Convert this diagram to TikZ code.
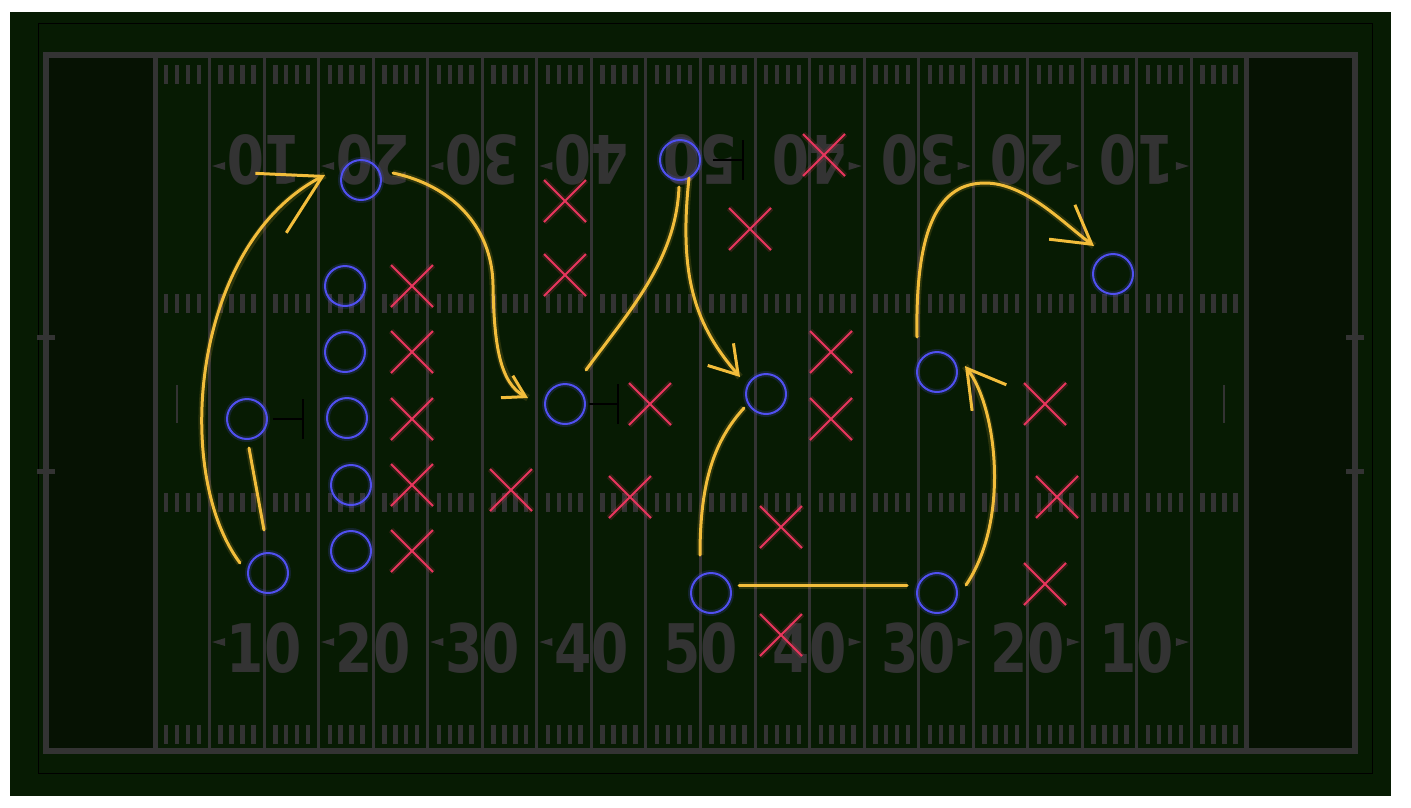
\documentclass[tikz,border=0pt]{standalone}
\usepackage[HTML]{xcolor}
\usepackage{fontspec}
\usepackage{graphicx}
\usepackage{tikz}
\usetikzlibrary{arrows.meta, shapes.misc}

\newfontfamily\yardfont{DejaVu Sans}

\definecolor{fieldgreen}{HTML}{071B03}
\definecolor{endzone}{HTML}{061203}
\definecolor{linegray}{HTML}{333333}
\definecolor{offblue}{HTML}{5050F0}
\definecolor{defred}{HTML}{E8365D}
\definecolor{routegold}{HTML}{F2BD3B}

\tikzset{
  off/.style={circle, draw=offblue, line width=2pt, minimum size=40pt, inner sep=0pt,
    preaction={draw=offblue, line width=6pt, opacity=0.18}},
  def/.style={cross out, draw=defred, line width=2pt, minimum size=40pt, inner sep=0pt,
    preaction={draw=defred, line width=6pt, opacity=0.18}},
  route/.style={draw=routegold, line width=3pt, line cap=round, line join=round,
    preaction={draw=routegold, line width=7pt, opacity=0.15, arrows=-}},
  block/.style={draw=black, line width=1.2pt},
  yardnum/.style={font=\yardfont\bfseries\fontsize{67}{67}\selectfont, text=linegray, inner sep=0pt},
}

\begin{document}
\begin{tikzpicture}[x=1pt, y=-1pt]
\useasboundingbox (0,0) rectangle (1411,807);
\fill[white] (0,0) rectangle (1411,807);
\fill[fieldgreen] (10,12) rectangle (1391,796);
\draw[black, line width=1pt] (38,23) rectangle (1372,773);

% end zones
\fill[endzone] (46,55) rectangle (155,751);
\fill[endzone] (1246,55) rectangle (1355,751);

% yard lines and hash marks
\foreach \k in {1,...,19}{\draw[linegray, line width=3pt] ({155+54.55*\k},55) -- ++(0,696);}
\foreach \k in {0,...,19}{
  \foreach \j in {1,...,4}{
    \foreach \y in {65,294,493,725}{\fill[linegray] ({155+54.55*\k+10.91*\j-2},\y) rectangle ++(4.5,19);}
  }
}
\fill[linegray] (176,385) rectangle ++(2,38);
\fill[linegray] (1223,385) rectangle ++(2,38);

% numbers
\foreach \m/\n in {1/10,2/20,3/30,4/40,5/50,6/40,7/30,8/20,9/10}{
  \node[yardnum] (n\m) at ({155+109.1*\m},648) {\scalebox{0.8}[1]{\n}};
  \node[yardnum, rotate=180] (t\m) at ({155+109.1*\m},160) {\scalebox{0.8}[1]{\n}};
}
\foreach \m in {1,...,4}{
  \fill[linegray] ({155+109.1*\m-52},642) -- ++(13,-4) -- ++(0,8) -- cycle;
  \fill[linegray] ({155+109.1*\m-52},166) -- ++(13,-4) -- ++(0,8) -- cycle;
}
\foreach \m in {6,...,9}{
  \fill[linegray] ({155+109.1*\m+52},642) -- ++(-13,-4) -- ++(0,8) -- cycle;
  \fill[linegray] ({155+109.1*\m+52},166) -- ++(-13,-4) -- ++(0,8) -- cycle;
}

% border, goal lines, sideline marks
\draw[linegray, line width=5pt] (155,55) -- (155,751);
\draw[linegray, line width=5pt] (1246,55) -- (1246,751);
\draw[linegray, line width=6pt] (46,55) rectangle (1355,751);
\foreach \y in {337,471}{
  \fill[linegray] (37,\y-2.5) rectangle ++(18,5);
  \fill[linegray] (1346,\y-2.5) rectangle ++(18,5);
}

% offense
\node[off] (o1) at (361,180) {};
\node[off] (o2) at (345,286) {};
\node[off] (o3) at (345,352) {};
\node[off] (o4) at (347,418) {};
\node[off] (o5) at (351,485) {};
\node[off] (o6) at (351,551) {};
\node[off] (o7) at (247,419) {};
\node[off] (o8) at (268,573) {};
\node[off] (o9) at (565,404) {};
\node[off] (o10) at (680,160) {};
\node[off] (o11) at (766,394) {};
\node[off] (o12) at (711,593) {};
\node[off] (o13) at (937,593) {};
\node[off] (o14) at (937,372) {};
\node[off] (o15) at (1113,274) {};

% defense
\foreach \x/\y [count=\i] in {412/286,412/352,412/419,412/485,412/551,565/201,565/275,650/404,
  511/490,630/497,824/155,750/229,831/352,831/419,781/527,781/635,1045/404,1057/497,1045/584}
  {\node[def] (d\i) at (\x,\y) {};}

% blocks
\draw[block] (o7.east) ++(5,0) -- ++(30,0) ++(0,-20) -- ++(0,40);
\draw[block] (o9.east) ++(3,0) -- ++(29,0) ++(0,-20) -- ++(0,40);
\draw[block] (o10.east) ++(12,0) -- ++(30,0) ++(0,-20) -- ++(0,40);

% route ends
\coordinate (a0) at (240,563);  \coordinate (a1) at (325,175);
\coordinate (b0) at (249,448);  \coordinate (b1) at (264,530);
\coordinate (c0) at (393,173);  \coordinate (c1) at (528,398);
\coordinate (e0) at (679,187);  \coordinate (e1) at (586,370);
\coordinate (f0) at (689,178);  \coordinate (f1) at (740,377);
\coordinate (g0) at (700,555);  \coordinate (g1) at (744,408);
\coordinate (h0) at (739,585);  \coordinate (h1) at (907,585);
\coordinate (k0) at (966,585);  \coordinate (k1) at (965,366);
\coordinate (m0) at (917,337);  \coordinate (m1) at (1094,246);

% routes
\draw[route, -{Straight Barb[length=58pt, width=67pt]}] (a0) .. controls (172,472) and (192,244) .. (a1);
\draw[route] (b0) -- (b1);
\draw[route, -{Straight Barb[length=21pt, width=25pt]}] (c0) .. controls (450,185) and (492,225) .. (493,285)
  .. controls (494,345) and (500,383) .. (c1);
\draw[route] (e0) .. controls (676,260) and (630,310) .. (e1);
\draw[route, -{Straight Barb[length=27pt, width=34pt]}] (f0) .. controls (678,280) and (697,327) .. (f1);
\draw[route] (g0) .. controls (700,480) and (715,440) .. (g1);
\draw[route] (h0) -- (h1);
\draw[route, -{Straight Barb[length=37pt, width=43pt]}] (k0) .. controls (1010,520) and (997,408) .. (k1);
\draw[route, -{Straight Barb[length=37pt, width=43pt]}] (m0) .. controls (915,225) and (940,183) .. (985,183)
  .. controls (1025,183) and (1062,222) .. (m1);
\end{tikzpicture}
\end{document}
